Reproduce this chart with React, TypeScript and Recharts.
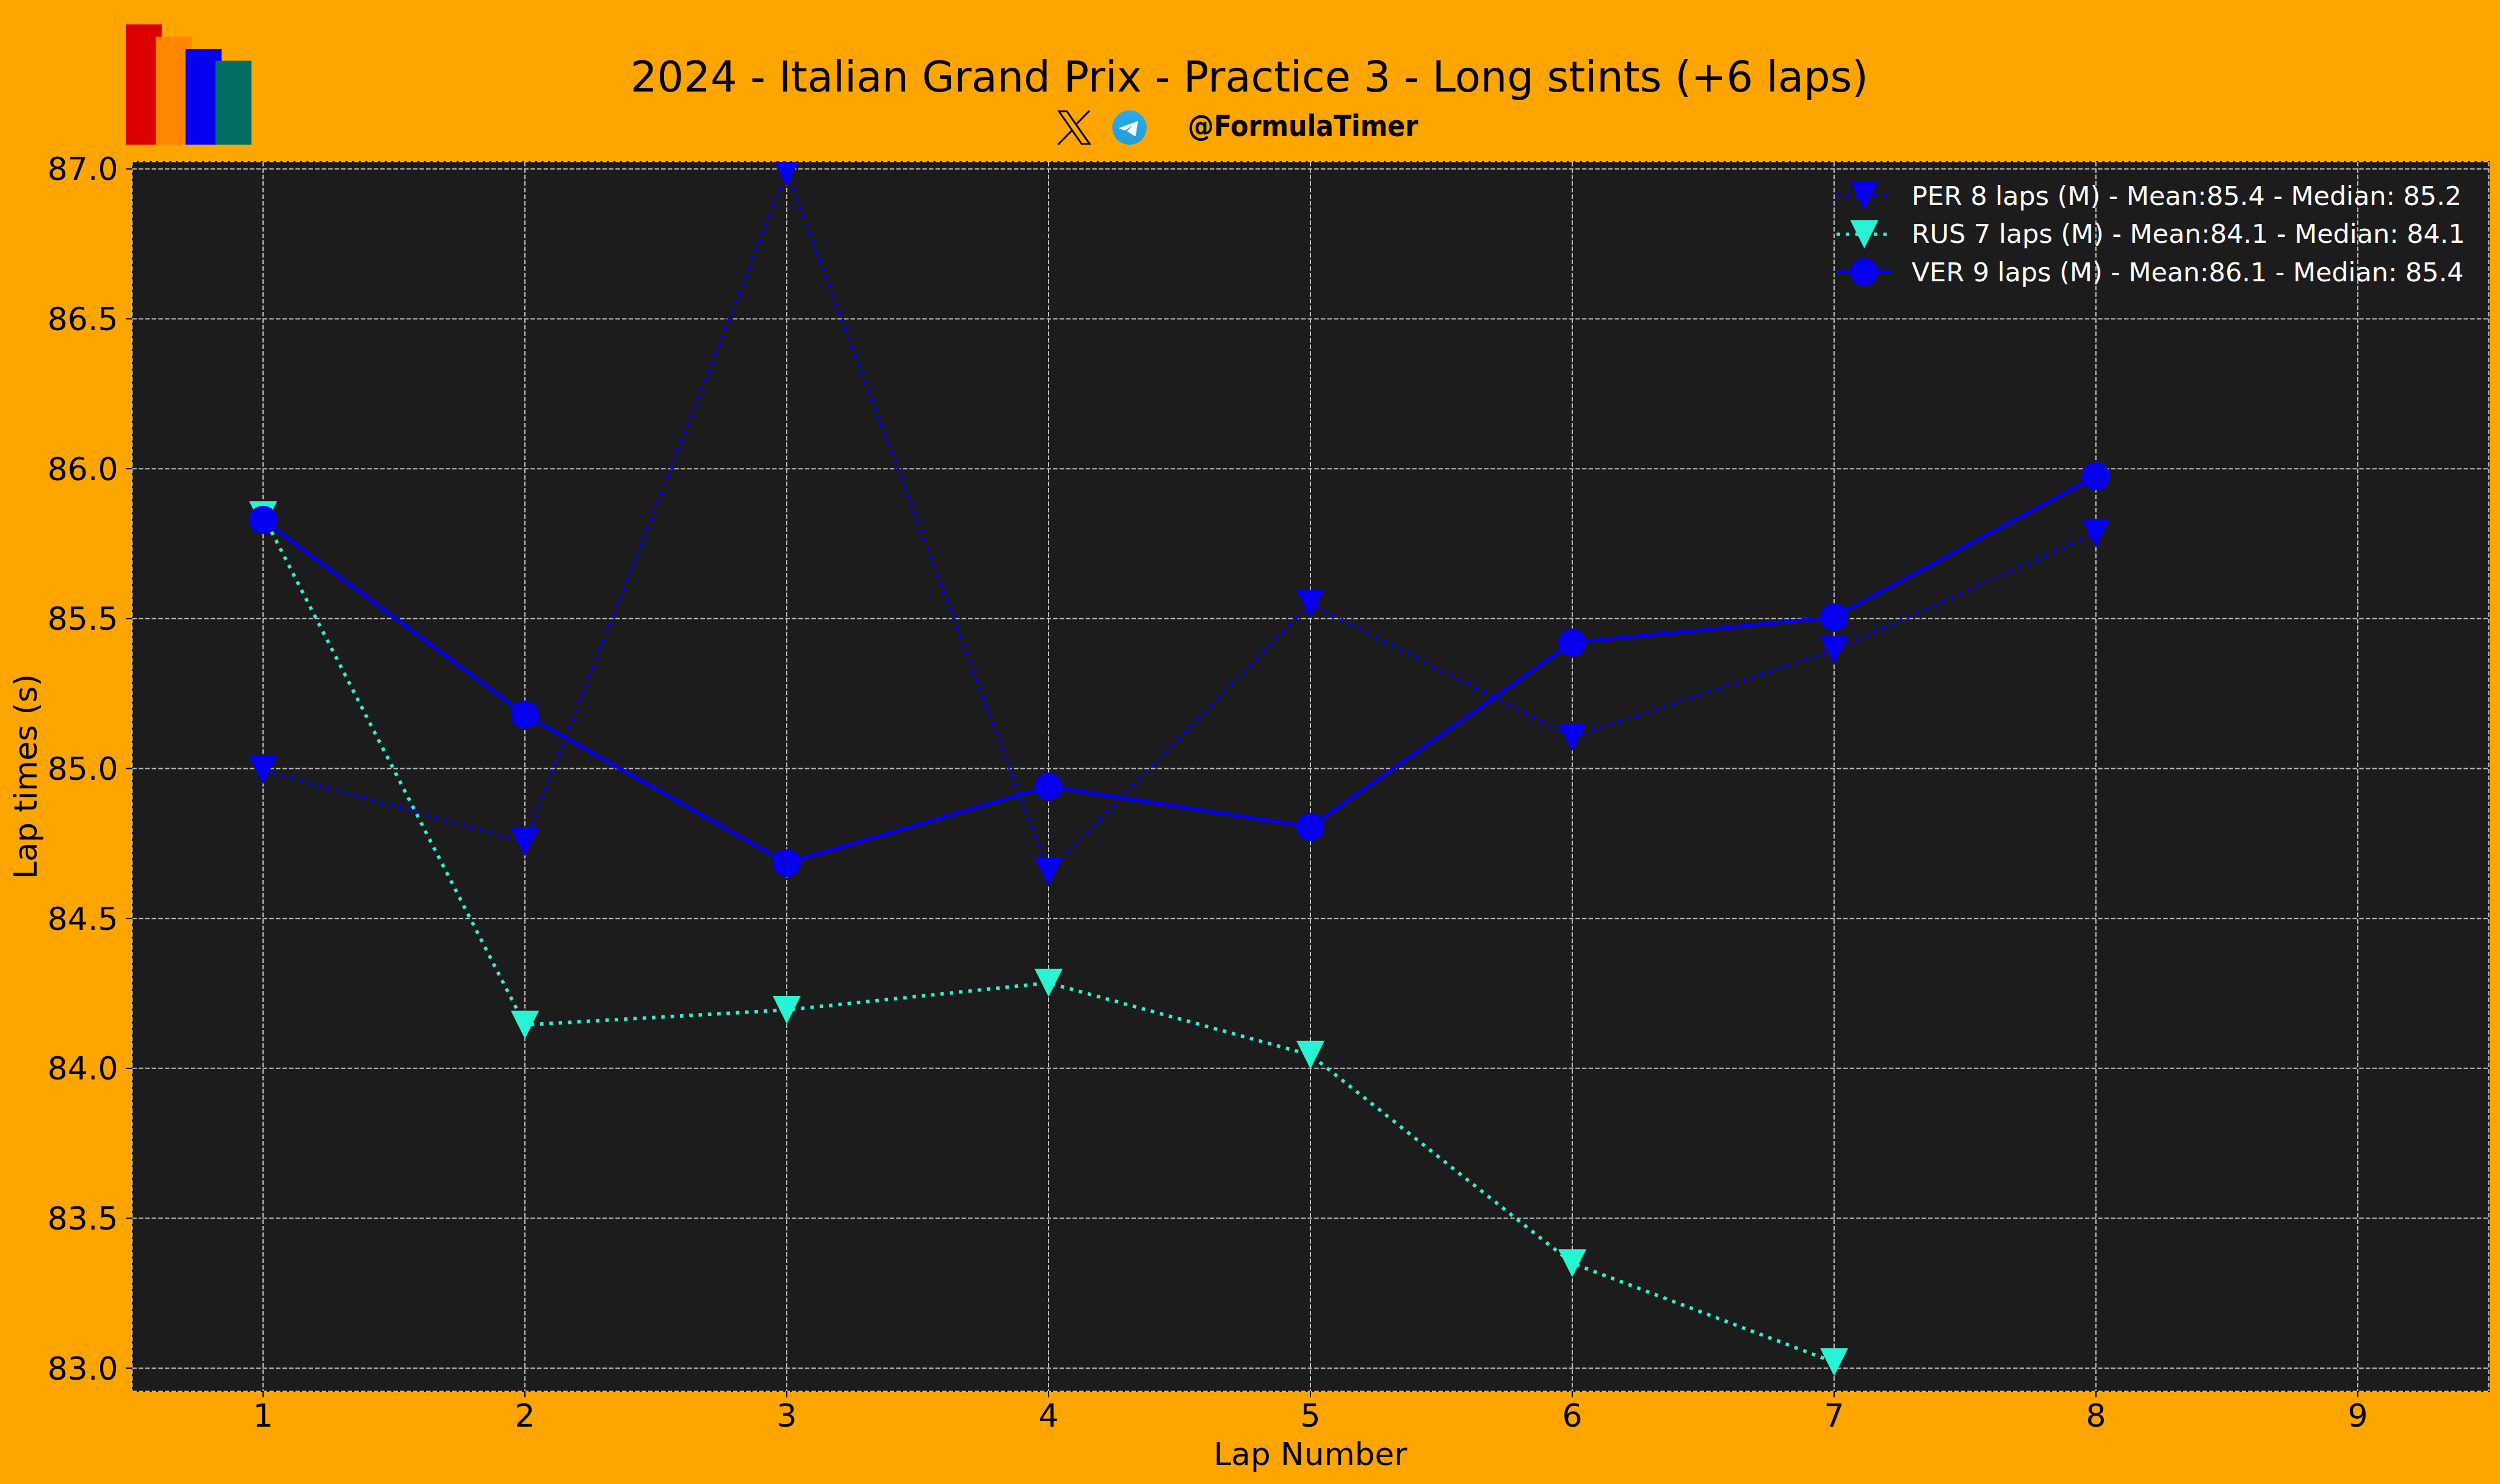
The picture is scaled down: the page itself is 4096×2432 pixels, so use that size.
import React from "react";
import { LineChart, Line, XAxis, YAxis, CartesianGrid, Legend } from "recharts";

const laps = [1, 2, 3, 4, 5, 6, 7, 8];
const perTimes = [84.995, 84.755, 86.99, 84.655, 85.55, 85.105, 85.395, 85.785];
const rusTimes = [85.845, 84.145, 84.195, 84.285, 84.045, 83.35, 83.02, null];
const verTimes = [85.83, 85.18, 84.685, 84.94, 84.805, 85.42, 85.505, 85.975];
const xTicks = [1, 2, 3, 4, 5, 6, 7, 8, 9];
const yTicks = [83, 83.5, 84, 84.5, 85, 85.5, 86, 86.5, 87];
const perLabel = "PER 8 laps (M) - Mean:85.4 - Median: 85.2";
const rusLabel = "RUS 7 laps (M) - Mean:84.1 - Median: 84.1";
const verLabel = "VER 9 laps (M) - Mean:86.1 - Median: 85.4";
const titleText = "2024 - Italian Grand Prix - Practice 3 - Long stints (+6 laps)";
const handleText = "@FormulaTimer";

const BLUE = "#0600EF";
const TEAL = "#27F4D2";
const FONT = "'DejaVu Sans'";
const DOT_DASH = "5.7 9.6";
const MARK = 23;

const rows = laps.map((lap, i) => ({
  lap,
  per: perTimes[i],
  rus: rusTimes[i],
  ver: verTimes[i],
}));

function Marker({ cx, cy, color, kind }: any) {
  if (cx == null || cy == null) return null;
  if (kind === "circle") return <circle cx={cx} cy={cy} r={MARK} fill={color} />;
  return (
    <polygon
      points={`${cx - MARK},${cy - MARK} ${cx + MARK},${cy - MARK} ${cx},${cy + MARK}`}
      fill={color}
    />
  );
}

const triangleDot = (color: string) => (p: any) =>
  <Marker key={p.key ?? p.index} cx={p.cx} cy={p.cy} color={color} kind="triangle" />;
const circleDot = (color: string) => (p: any) =>
  <Marker key={p.key ?? p.index} cx={p.cx} cy={p.cy} color={color} kind="circle" />;

const legendStyles = [
  { dash: DOT_DASH, kind: "triangle", width: 5.7 },
  { dash: DOT_DASH, kind: "triangle", width: 5.7 },
  { dash: undefined, kind: "circle", width: 6 },
];

function LegendBox({ payload }: any) {
  return (
    <div style={{ display: "flex", flexDirection: "column" }}>
      {(payload || []).map((item: any, i: number) => {
        const st = legendStyles[i];
        return (
          <div key={i} style={{ display: "flex", alignItems: "center", height: 62.4 }}>
            <svg width={91} height={50} style={{ marginRight: 32, flex: "none", overflow: "visible" }}>
              <line x1={0} x2={91} y1={25} y2={25} stroke={item.color} strokeWidth={st.width} strokeDasharray={st.dash} />
              <Marker cx={45.5} cy={25} color={item.color} kind={st.kind} />
            </svg>
            <span style={{ fontFamily: FONT, fontSize: 42.9, color: "#fff", whiteSpace: "nowrap", lineHeight: 1 }}>
              {item.value}
            </span>
          </div>
        );
      })}
    </div>
  );
}

function Overlay() {
  return (
    <svg width={4096} height={2432} style={{ position: "absolute", left: 0, top: 0, pointerEvents: "none" }}>
      <defs>
        <linearGradient id="tg" x1="0" y1="0" x2="0" y2="1">
          <stop offset="0" stopColor="#2AABEE" />
          <stop offset="1" stopColor="#229ED9" />
        </linearGradient>
      </defs>
      <rect x={206} y={40} width={59} height={197} fill="#DC0000" />
      <rect x={255} y={60} width={59} height={177} fill="#FF8700" />
      <rect x={304} y={80} width={59} height={157} fill={BLUE} />
      <rect x={353} y={99.5} width={59} height={137.5} fill="#006F62" />
      <text x={2047} y={150} textAnchor="middle" fontFamily={FONT} fontSize={68.6} fill="#000">
        {titleText}
      </text>
      <polygon points="1735,182.5 1748,182.5 1785,235.5 1772,235.5" fill="none" stroke="#000" strokeWidth={3} />
      <line x1={1785} y1={181.5} x2={1763} y2={204} stroke="#000" strokeWidth={3} />
      <line x1={1733.5} y1={237} x2={1756} y2={214} stroke="#000" strokeWidth={3} />
      <circle cx={1850.5} cy={209} r={28.2} fill="url(#tg)" />
      <polygon
        points="1864,199 1834,210 1843,213.5 1858,203 1847,215 1860,223"
        fill="#fff"
        stroke="#fff"
        strokeWidth={1}
        strokeLinejoin="round"
      />
      <text x={1946} y={223} fontFamily={FONT} fontWeight="bold" fontStretch="condensed" fontSize={47.5} fill="#000">
        {handleText}
      </text>
    </svg>
  );
}

export default function App() {
  return (
    <div style={{ position: "absolute", left: 0, top: 0, width: 4096, height: 2432, background: "#FFA500", overflow: "hidden" }}>
      <div
        style={{
          position: "absolute",
          left: 215.5,
          top: 264,
          width: 3863,
          height: 2017,
          boxSizing: "border-box",
          border: "2px solid #000",
          background: "#1C1C1C",
        }}
      />
      <div style={{ position: "absolute", left: 0, top: 0 }}>
        <LineChart
          width={4096}
          height={2432}
          data={rows}
          margin={{ top: 265, right: 18.5, bottom: 0, left: 0 }}
        >
          <CartesianGrid stroke="#BDBDBD" strokeWidth={2} strokeDasharray="7.5 3.2" />
          <XAxis
            dataKey="lap"
            type="number"
            domain={[0.5, 9.5]}
            ticks={xTicks}
            interval={0}
            allowDataOverflow
            height={152}
            axisLine={false}
            tickSize={10}
            tickMargin={11}
            tickLine={{ stroke: "#000", strokeWidth: 2 }}
            tick={{ fill: "#000", fontSize: 52, fontFamily: FONT }}
            label={{
              value: "Lap Number",
              position: "insideBottom",
              offset: 31,
              style: { fill: "#000", fontSize: 51.6, fontFamily: FONT },
            }}
          />
          <YAxis
            type="number"
            domain={[82.923, 87.024]}
            ticks={yTicks}
            interval={0}
            allowDataOverflow
            width={216.5}
            axisLine={false}
            tickSize={10}
            tickMargin={13}
            tickLine={{ stroke: "#000", strokeWidth: 2 }}
            tickFormatter={(v: number) => v.toFixed(1)}
            tick={{ fill: "#000", fontSize: 52, fontFamily: FONT }}
            label={{
              value: "Lap times (s)",
              angle: -90,
              position: "insideLeft",
              offset: 42,
              style: { fill: "#000", fontSize: 51.6, fontFamily: FONT, textAnchor: "middle" },
            }}
          />
          <Legend
            layout="vertical"
            align="center"
            verticalAlign="middle"
            content={<LegendBox />}
            wrapperStyle={{ position: "absolute", left: 3009, top: 290, width: 1060, height: 190, margin: 0 }}
          />
          <Line
            name={perLabel}
            dataKey="per"
            stroke={BLUE}
            strokeWidth={5.7}
            strokeDasharray={DOT_DASH}
            dot={triangleDot(BLUE)}
            activeDot={false}
            isAnimationActive={false}
          />
          <Line
            name={rusLabel}
            dataKey="rus"
            stroke={TEAL}
            strokeWidth={5.7}
            strokeDasharray={DOT_DASH}
            dot={triangleDot(TEAL)}
            activeDot={false}
            isAnimationActive={false}
          />
          <Line
            name={verLabel}
            dataKey="ver"
            stroke={BLUE}
            strokeWidth={6}
            dot={circleDot(BLUE)}
            activeDot={false}
            isAnimationActive={false}
          />
        </LineChart>
      </div>
      <Overlay />
    </div>
  );
}
